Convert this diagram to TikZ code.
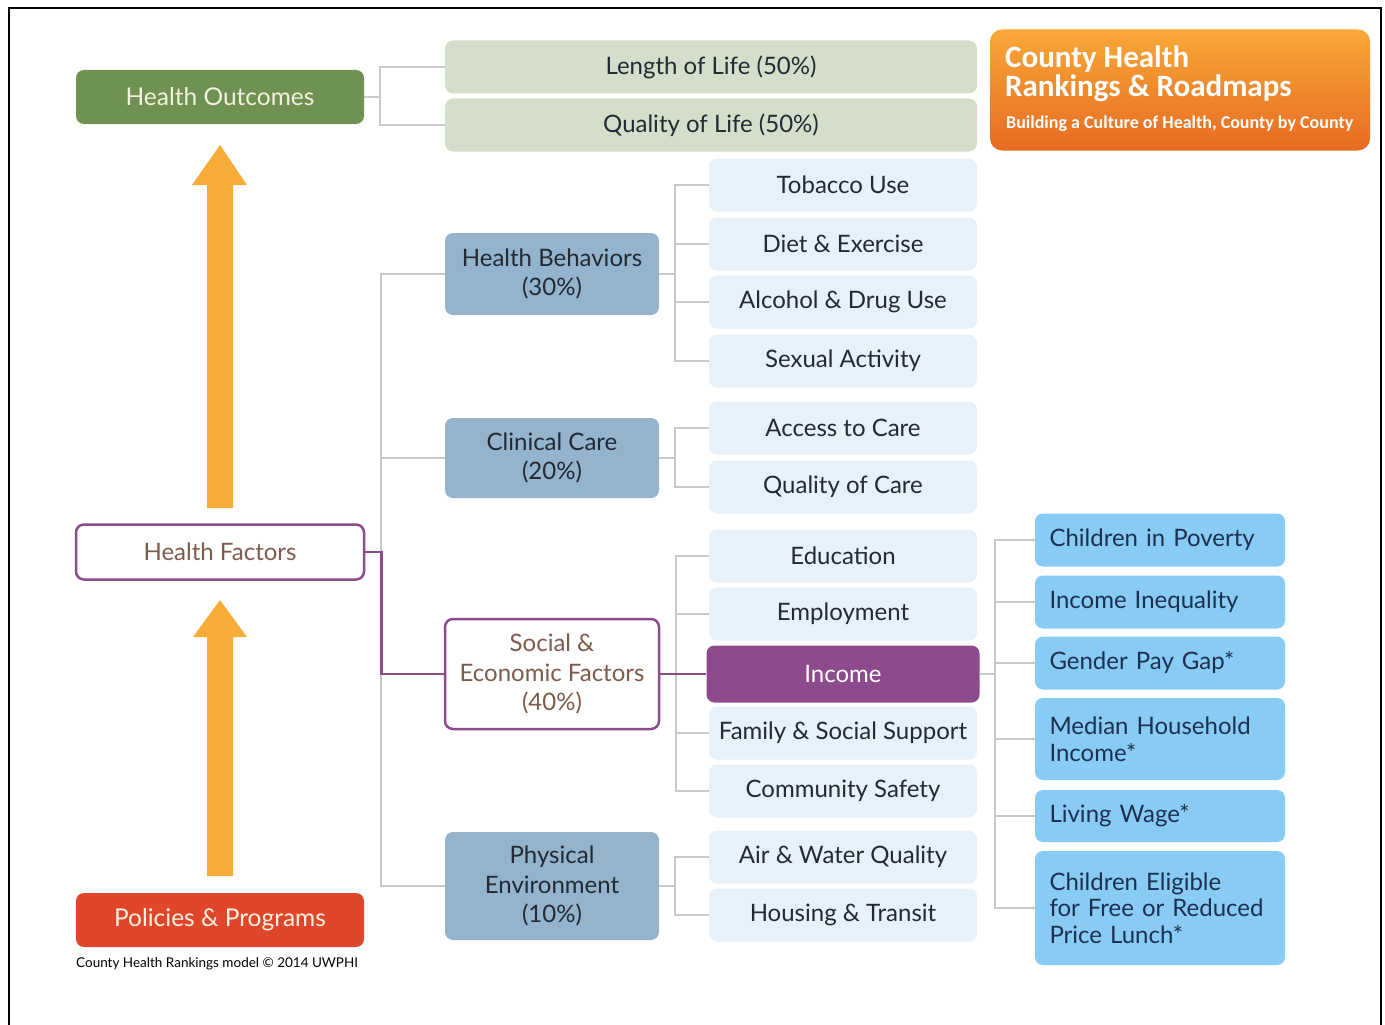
\documentclass[tikz,border=0pt]{standalone}
\usepackage{fontspec}
\setmainfont{Lato}
\newfontfamily\brandfont{Carlito}
\usepackage{tikz}
\usetikzlibrary{positioning,calc}
\usepackage{xcolor}
\definecolor{outgreen}{HTML}{6F9152}
\definecolor{lifegreen}{HTML}{D4DECA}
\definecolor{factorpurple}{HTML}{8D4A8C}
\definecolor{policyred}{HTML}{E0472A}
\definecolor{steelblue}{HTML}{94B3CD}
\definecolor{paleblue}{HTML}{E6F1F9}
\definecolor{skyblue}{HTML}{88CBF5}
\definecolor{arroworange}{HTML}{F6AC36}
\definecolor{brandtop}{HTML}{F8A838}
\definecolor{brandbot}{HTML}{E76B22}
\definecolor{linkgray}{HTML}{C9C9C9}
\definecolor{factorbrown}{HTML}{7E5B4A}
\definecolor{darktext}{HTML}{232A33}
\definecolor{navytext}{HTML}{1C3150}
\definecolor{creamtext}{HTML}{F3F1DF}

\begin{document}
\begin{tikzpicture}[x=1pt,y=-1pt,
	  every node/.style={align=center,inner sep=0pt,draw=none,font=\fontsize{24}{29.5}\selectfont},
	  topbox/.style={rounded corners=8pt,minimum width=288pt,minimum height=54pt,text=creamtext,font=\fontsize{24.5}{29.5}\selectfont},
	  lifebox/.style={rounded corners=8pt,fill=lifegreen,minimum width=532pt,minimum height=53pt,text=darktext},
	  factorbox/.style={rounded corners=8pt,fill=white,draw=factorpurple,line width=2.5pt,text=factorbrown},
	  groupbox/.style={rounded corners=8pt,fill=steelblue,minimum width=214pt,text=darktext},
	  measure/.style={rounded corners=8pt,fill=paleblue,minimum width=268pt,minimum height=53pt,text=darktext},
	  incomebox/.style={rounded corners=8pt,fill=factorpurple,minimum width=273pt,minimum height=57pt,text=white},
	  subbox/.style={rounded corners=8pt,fill=skyblue,text width=221pt,inner xsep=14.5pt,align=left,text=navytext,font=\fontsize{24}{26.5}\selectfont},
	  link/.style={draw=linkgray,line width=2pt},
	  plink/.style={draw=factorpurple,line width=2.5pt},
	  bigarrow/.style={fill=arroworange}]

	  \useasboundingbox (0,0) rectangle (1385,1025);
	  \draw[line width=1.5pt] (9,1030) -- (9,8) -- (1381,8) -- (1381,1030);

	  % Left column
	  \node[topbox,fill=outgreen] (outcomes) at (220,97) {Health Outcomes};
	  \node[factorbox,minimum width=288pt,minimum height=55pt] (factors) at (220,552) {Health Factors};
	  \node[topbox,fill=policyred] (policies) at (220,920) {Policies \& Programs};
	  \node[anchor=west,font=\fontsize{13.5}{15}\selectfont,text=black] (credit) at (76,964) {County Health Rankings model © 2014 UWPHI};

	  \fill[bigarrow] (207,508) -- (207,185) -- (192,185) -- (220,145) -- (247,185) -- (233,185) -- (233,508) -- cycle;
	  \fill[bigarrow] (207,876) -- (207,637) -- (193,637) -- (220,600) -- (247,637) -- (233,637) -- (233,876) -- cycle;

	  % Outcomes
	  \node[lifebox] (length) at (711,67) {Length of Life (50\%)};
	  \node[lifebox] (quality) at (711,125) {Quality of Life (50\%)};

	  % Factor groups
	  \node[groupbox,minimum height=82pt] (behaviors) at (552,274) {Health Behaviors\\(30\%)};
	  \node[groupbox,minimum height=80pt] (clinical) at (552,458) {Clinical Care\\(20\%)};
	  \node[factorbox,minimum width=214pt,minimum height=110pt] (social) at (552,674) {Social \&\\Economic Factors\\(40\%)};
	  \node[groupbox,minimum height=108pt] (physical) at (552,886) {Physical\\Environment\\(10\%)};

	  % Measures
	  \node[measure] (tobacco) at (843,185) {Tobacco Use};
	  \node[measure] (diet) at (843,244) {Diet \& Exercise};
	  \node[measure] (alcohol) at (843,302) {Alcohol \& Drug Use};
	  \node[measure] (sexual) at (843,361) {Sexual Activity};
	  \node[measure] (access) at (843,428) {Access to Care};
	  \node[measure] (carequality) at (843,487) {Quality of Care};
	  \node[measure] (education) at (843,556) {Education};
	  \node[measure] (employment) at (843,614) {Employment};
	  \node[incomebox] (income) at (843,674) {Income};
	  \node[measure] (family) at (843,733) {Family \& Social Support};
	  \node[measure] (safety) at (843,791) {Community Safety};
	  \node[measure] (air) at (843,857) {Air \& Water Quality};
	  \node[measure] (housing) at (843,915) {Housing \& Transit};

	  % Income measures
	  \node[subbox,minimum height=53pt] (poverty) at (1160,540) {Children in Poverty};
	  \node[subbox,minimum height=53pt] (inequality) at (1160,602) {Income Inequality};
	  \node[subbox,minimum height=53pt] (paygap) at (1160,663) {Gender Pay Gap*};
	  \node[subbox,minimum height=82pt] (median) at (1160,739) {Median Household\\Income*};
	  \node[subbox,minimum height=52pt] (wage) at (1160,816) {Living Wage*};
	  \node[subbox,minimum height=114pt] (lunch) at (1160,908) {Children Eligible\\for Free or Reduced\\Price Lunch*};

	  % Brand box
	  \node[rounded corners=12pt,top color=brandtop,bottom color=brandbot,minimum width=380pt,minimum height=121pt] (brand) at (1180,90) {};
	  \node[anchor=west,align=left,text=white,font=\brandfont\bfseries\fontsize{31}{29}\selectfont] (brandname) at (1005,74) {County Health\\Rankings \& Roadmaps};
	  \node[anchor=west,text=white,font=\brandfont\bfseries\fontsize{18}{20}\selectfont] (brandline) at (1006,124) {Building a Culture of Health, County by County};

	  % Connectors
	  \draw[link] (outcomes.east) -- ++(16,0) coordinate (outj);
	  \draw[link] (length.west) -| (outj) |- (quality.west);

	  \coordinate (trunk) at ($(factors.east)+(16,0)$);
	  \draw[link] (behaviors.west) -| (trunk) |- (physical.west);
	  \draw[link] (trunk |- clinical.west) -- (clinical.west);
	  \draw[plink] (factors.east) -| (trunk) |- (social.west);

	  \draw[link] (behaviors.east) -- ++(16,0) coordinate (behj);
	  \draw[link] (tobacco.west) -| (behj) |- (sexual.west);
	  \draw[link] (behj |- diet.west) -- (diet.west);
	  \draw[link] (behj |- alcohol.west) -- (alcohol.west);

	  \draw[link] (clinical.east) -- ++(16,0) coordinate (clij);
	  \draw[link] (access.west) -| (clij) |- (carequality.west);

	  \draw[link] (social.east) -- ++(16,0) coordinate (socj);
	  \draw[link] (education.west) -| (socj) |- (safety.west);
	  \draw[link] (socj |- employment.west) -- (employment.west);
	  \draw[link] (socj |- family.west) -- (family.west);
	  \draw[plink] (social.east) -- (income.west);

	  \draw[link] (physical.east) -- ++(16,0) coordinate (phyj);
	  \draw[link] (air.west) -| (phyj) |- (housing.west);

	  \draw[link] (income.east) -- ++(15,0) coordinate (incj);
	  \draw[link] (poverty.west) -| (incj) |- (lunch.west);
	  \draw[link] (incj |- inequality.west) -- (inequality.west);
	  \draw[link] (incj |- paygap.west) -- (paygap.west);
	  \draw[link] (incj |- median.west) -- (median.west);
	  \draw[link] (incj |- wage.west) -- (wage.west);
\end{tikzpicture}
\end{document}
